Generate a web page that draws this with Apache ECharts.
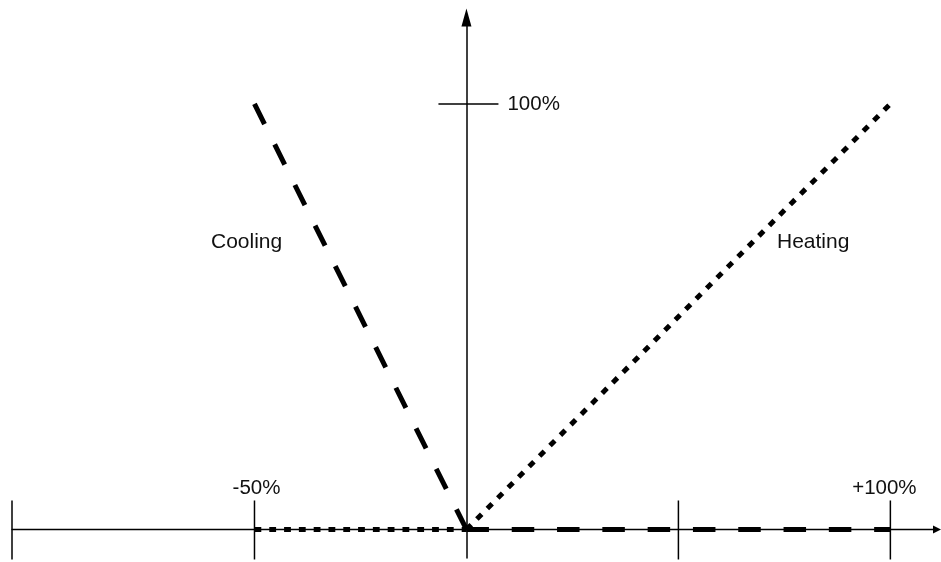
<!DOCTYPE html>
<html>
<head>
<meta charset="utf-8">
<script src="https://cdn.jsdelivr.net/npm/echarts@6/dist/echarts.min.js"></script>
<style>html,body{margin:0;padding:0;background:#fff}#c{width:941px;height:562px}</style>
</head>
<body>
<div id="c"></div>
<script>
// ---- data ----
const xMin = -107.2, xMax = 111.0;
const yMin = -6.7, yMax = 120.3;
const xTickValues = [-107.2, -50, 50, 100];
const xLabelValues = [-50, 100];
const xTickLabels = ['-50%', '+100%'];
const yTickValues = [100];
const yTickLabels = ['100%'];
const coolingSlope = [[-50, 100], [0, 0]];
const coolingFlat = [[0, 0], [100, 0]];
const heatingSlope = [[0, 0], [100, 100]];
const heatingFlat = [[-50, 0], [0, 0]];
const seriesNames = ['Cooling', 'Heating'];

// ---- style ----
const FONT = '"Liberation Sans", Arial, sans-serif';
const xLabelNudge = [2, -6];   // horizontal pixel nudge per x label
const dashCool = [22.5, 22.8];
const dotHeat = [6.8, 8.0];

const chart = echarts.init(document.getElementById('c'), null, {renderer: 'canvas'});

function lineSeries(name, data, dash) {
  return {
    name: name, type: 'line', data: data, showSymbol: false, symbol: 'none',
    silent: true, animation: false, clip: false,
    lineStyle: {color: '#000', width: 5, type: dash, cap: 'butt'}
  };
}

const option = {
  animation: false,
  backgroundColor: '#fff',
  grid: {left: 12, right: 4, top: 17.5, bottom: 4, containLabel: false, outerBoundsMode: 'none'},
  xAxis: {
    type: 'value', min: xMin, max: xMax,
    axisLine: {show: true, onZero: true, symbol: ['none', 'triangle'], symbolSize: [8, 8],
      lineStyle: {color: '#000', width: 1.3}},
    axisTick: {show: false},
    splitLine: {show: false},
    axisLabel: {show: false}
  },
  yAxis: {
    type: 'value', min: yMin, max: yMax,
    axisLine: {show: true, onZero: true, symbol: ['none', 'triangle'], symbolSize: [10, 18],
      lineStyle: {color: '#000', width: 1.5}},
    axisTick: {show: false},
    splitLine: {show: false},
    axisLabel: {show: false}
  },
  series: [
    // x ticks (crossing the axis)
    {
      type: 'custom', silent: true, clip: false, animation: false,
      data: xTickValues.map(v => [v, 0]),
      renderItem: function (params, api) {
        const p = api.coord([api.value(0), 0]);
        return {type: 'line', shape: {x1: p[0], y1: p[1] - 29, x2: p[0], y2: p[1] + 30},
          style: {stroke: '#000', lineWidth: 1.5}};
      }
    },
    // y tick
    {
      type: 'custom', silent: true, clip: false, animation: false,
      data: yTickValues.map(v => [0, v]),
      renderItem: function (params, api) {
        const p = api.coord([0, api.value(1)]);
        return {type: 'line', shape: {x1: p[0] - 28, y1: p[1], x2: p[0] + 32, y2: p[1]},
          style: {stroke: '#000', lineWidth: 1.5}};
      }
    },
    // x tick labels
    {
      type: 'custom', silent: true, clip: false, animation: false,
      data: xLabelValues.map(v => [v, 0]),
      renderItem: function (params, api) {
        const i = params.dataIndex;
        const p = api.coord([api.value(0), 0]);
        return {type: 'text', x: p[0] + xLabelNudge[i], y: p[1] - 41,
          style: {text: xTickLabels[i], fill: '#111', font: '20.5px ' + FONT,
            align: 'center', verticalAlign: 'middle'}};
      }
    },
    // y tick labels
    {
      type: 'custom', silent: true, clip: false, animation: false,
      data: yTickValues.map(v => [0, v]),
      renderItem: function (params, api) {
        const i = params.dataIndex;
        const p = api.coord([0, api.value(1)]);
        return {type: 'text', x: p[0] + 41, y: p[1],
          style: {text: yTickLabels[i], fill: '#111', font: '20.5px ' + FONT,
            align: 'left', verticalAlign: 'middle'}};
      }
    },
    lineSeries(seriesNames[1], heatingFlat, dotHeat),
    lineSeries(seriesNames[1], heatingSlope, dotHeat),
    lineSeries(seriesNames[0], coolingSlope, dashCool),
    lineSeries(seriesNames[0], coolingFlat, dashCool)
  ],
  graphic: [
    {type: 'text', left: 211, top: 232, silent: true,
      style: {text: seriesNames[0], fill: '#111', font: '21px ' + FONT}},
    {type: 'text', left: 777, top: 232, silent: true,
      style: {text: seriesNames[1], fill: '#111', font: '21px ' + FONT}}
  ]
};
chart.setOption(option);
</script>
</body>
</html>
